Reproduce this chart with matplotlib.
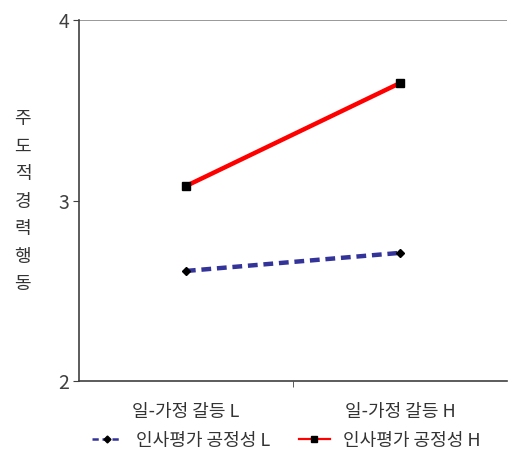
import matplotlib
matplotlib.use('Agg')
import matplotlib.pyplot as plt
from matplotlib.lines import Line2D

plt.rcParams['font.family'] = ['Noto Sans CJK KR', 'DejaVu Sans']

categories = ['일-가정 갈등 L', '일-가정 갈등 H']
fair_low = [2.61, 2.71]
fair_high = [3.08, 3.65]
series_names = ['인사평가 공정성 L', '인사평가 공정성 H']
y_label = '주\n도\n적\n경\n력\n행\n동'

fig = plt.figure(figsize=(5.09, 4.62), dpi=100)
ax = fig.add_axes([0.155, 0.175, 0.841, 0.782])

x = range(len(categories))
ax.plot(x, fair_low, color='#333399', lw=3.2, ls=(0, (2.2, 1.3)),
        marker='D', ms=4, mfc='black', mec='black')
ax.plot(x, fair_high, color='#ff0000', lw=3.2, ls='-',
        marker='s', ms=5.5, mfc='black', mec='black')

ax.set_xlim(-0.5, 1.5)
ax.set_ylim(2, 4)
ax.set_yticks([2, 3, 4])
ax.set_xticks([0, 1])
ax.set_xticklabels(categories, fontsize=13, color='#333333')
ax.set_xticks([0.5], minor=True)
ax.tick_params(axis='x', which='major', length=0, pad=16)
ax.tick_params(axis='x', which='minor', length=4, direction='out', color='#404040')
ax.tick_params(axis='y', length=4, direction='out', labelsize=14, color='#404040', labelcolor='#404040', pad=3)
ax.axhline(4, color='#888888', lw=1.2)

for s in ['top', 'right']:
    ax.spines[s].set_visible(False)
for s in ['left', 'bottom']:
    ax.spines[s].set_color('#404040')
    ax.spines[s].set_linewidth(1.2)

fig.text(0.045, 0.563, y_label, fontsize=13, ha='center', va='center', linespacing=1.68, color='#333333')

handles = [
    Line2D([], [], color='#333399', lw=1.8, ls=(0, (2.5, 1.5)), marker='D', ms=3.5, mfc='black', mec='black'),
    Line2D([], [], color='#ff0000', lw=1.6, ls='-', marker='s', ms=4.5, mfc='black', mec='black'),
]
ax.legend(handles, series_names, loc='upper center', bbox_to_anchor=(0.484, -0.095), ncol=2, frameon=False,
          fontsize=13, handlelength=1.7, columnspacing=1.6, handletextpad=0.75, labelcolor='#333333')

fig.savefig('out.png', dpi=100)
plt.close(fig)
